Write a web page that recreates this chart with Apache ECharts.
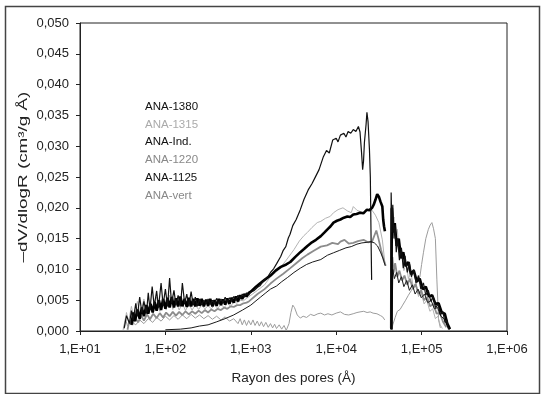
<!DOCTYPE html>
<html lang="fr">
	<head>
		<meta charset="utf-8">
		<title></title>
		<script type="text/javascript" src="https://cdn.jsdelivr.net/npm/echarts@6/dist/echarts.min.js"></script>
		<style type="text/css">
			html, body {
				margin: 0;
				padding: 0;
				background: #fff;
			}
		</style>
	</head>
	<body>
		<div id="chart" style="width:541px; height: 394px;"></div>
		<script type="text/javascript">
			// [rayon (Å), -dV/dlogR]; null = coupure de la courbe
			var ana1380 = [
				[33, 0.0005], [35, 0.0025], [38, 0.0012], [40, 0.0033], [42, 0.0018], [45, 0.0045], [47, 0.0024], [50, 0.0055],
				[53, 0.0030], [56, 0.0048], [60, 0.0028], [63, 0.0062], [66, 0.0035], [70, 0.0072], [74, 0.0040], [79, 0.0065],
				[83, 0.0038], [89, 0.0078], [94, 0.0042], [100, 0.0068], [106, 0.0040], [112, 0.0086], [118, 0.0045], [126, 0.0066],
				[133, 0.0042], [141, 0.0058], [150, 0.0040], [158, 0.0078], [168, 0.0045], [178, 0.0060], [188, 0.0040], [200, 0.0064],
				[212, 0.0042], [224, 0.0055], [237, 0.0040], [251, 0.0052], [266, 0.0042], [282, 0.0050], [300, 0.0044], [316, 0.0052],
				[335, 0.0043], [355, 0.0050], [376, 0.0044], [398, 0.0053], [422, 0.0045], [447, 0.0052], [473, 0.0046], [501, 0.0055],
				[531, 0.0047], [562, 0.0054], [596, 0.0049], [631, 0.0056], [668, 0.0050], [708, 0.0058], [750, 0.0052], [794, 0.0060],
				[841, 0.0055], [891, 0.0062], [944, 0.0058], [1000, 0.0063], [1100, 0.0066], [1200, 0.0071], [1290, 0.0074],
				[1400, 0.0081], [1500, 0.0085], [1600, 0.0089], [1700, 0.0095], [1850, 0.0101], [2000, 0.0109], [2240, 0.0121],
				[2400, 0.0131], [2570, 0.0137], [2750, 0.0151], [2880, 0.0157], [3100, 0.0171], [3400, 0.0181], [3800, 0.0197],
				[4200, 0.0214], [4700, 0.0229], [5200, 0.0239], [5750, 0.0251], [6300, 0.0262], [7080, 0.0283], [7700, 0.0293],
				[8300, 0.0289], [9100, 0.0310], [10000, 0.0313], [10500, 0.0307], [11200, 0.0318], [12300, 0.0321], [13000, 0.0315],
				[13800, 0.0324], [14800, 0.0321], [15850, 0.0327], [17000, 0.0324], [18200, 0.0332], [19000, 0.0323], [19800, 0.0290],
				[20400, 0.0262], [20900, 0.0276], [21400, 0.0306], [22400, 0.0336], [22900, 0.0355], [23600, 0.0340], [24500, 0.0295],
				[25100, 0.0250], [25700, 0.0132], [26000, 0.0083], [30000, null],
				[43500, 0.0003], [44000, 0.0225], [45000, 0.0160], [46000, 0.0205], [47500, 0.0150], [49000, 0.0172], [50500, 0.0128],
				[52500, 0.0150], [55000, 0.0115], [58000, 0.0135], [61000, 0.0102], [64000, 0.0122], [68000, 0.0095], [72000, 0.0112],
				[76000, 0.0088], [81000, 0.0100], [86000, 0.0078], [92000, 0.0090], [98000, 0.0068], [105000, 0.0078], [112000, 0.0058],
				[120000, 0.0066], [128000, 0.0048], [137000, 0.0056], [146000, 0.0038], [156000, 0.0044], [166000, 0.0026],
				[177000, 0.0032], [188000, 0.0014], [198000, 0.0018], [206000, 0.0003]
			];
			var ana1315 = [
				[33, 0.0003], [35, 0.0030], [37, 0.0015], [40, 0.0040], [43, 0.0020], [47, 0.0048], [51, 0.0025], [56, 0.0052],
				[61, 0.0028], [66, 0.0046], [72, 0.0030], [79, 0.0055], [86, 0.0032], [94, 0.0050], [102, 0.0034], [112, 0.0058],
				[122, 0.0035], [133, 0.0048], [145, 0.0034], [158, 0.0045], [172, 0.0033], [188, 0.0044], [205, 0.0034], [224, 0.0042],
				[245, 0.0035], [266, 0.0042], [290, 0.0036], [316, 0.0041], [345, 0.0036], [376, 0.0042], [410, 0.0037], [447, 0.0043],
				[490, 0.0038], [531, 0.0045], [580, 0.0040], [631, 0.0047], [690, 0.0045], [750, 0.0050], [820, 0.0049], [891, 0.0053],
				[1000, 0.0058], [1200, 0.0066], [1450, 0.0075], [1700, 0.0088], [2000, 0.0096], [2250, 0.0104], [2600, 0.0115],
				[3200, 0.0132], [3700, 0.0146], [4200, 0.0155], [4600, 0.0160], [5200, 0.0168], [6000, 0.0176], [6600, 0.0178],
				[7500, 0.0183], [8500, 0.0186], [9300, 0.0192], [10500, 0.0197], [12000, 0.0200], [13500, 0.0195], [15000, 0.0192],
				[15850, 0.0202], [17500, 0.0196], [19000, 0.0194], [21000, 0.0192], [22900, 0.0196], [24500, 0.0198], [26300, 0.0196],
				[28800, 0.0188], [31600, 0.0176], [34700, 0.0148], [37200, 0.0110], [40000, null],
				[43000, 0.0005], [43800, 0.0198], [45500, 0.0170], [47500, 0.0185], [50000, 0.0150], [52000, 0.0165], [55000, 0.0120],
				[58000, 0.0135], [62000, 0.0098], [66000, 0.0110], [70000, 0.0085], [75000, 0.0095], [80000, 0.0070], [86000, 0.0078],
				[92000, 0.0056], [99000, 0.0062], [107000, 0.0044], [115000, 0.0050], [125000, 0.0032], [135000, 0.0036],
				[145000, 0.0020], [155000, 0.0024], [165000, 0.0010], [175000, 0.0004]
			];
			var anaInd = [
				[40, 0.0010], [42, 0.0030], [44, 0.0016], [47, 0.0035], [50, 0.0020], [53, 0.0038], [56, 0.0024], [60, 0.0042],
				[63, 0.0028], [67, 0.0044], [71, 0.0030], [75, 0.0047], [79, 0.0033], [84, 0.0050], [89, 0.0034], [94, 0.0052],
				[100, 0.0036], [106, 0.0054], [112, 0.0038], [119, 0.0055], [126, 0.0038], [133, 0.0053], [141, 0.0040], [150, 0.0056],
				[158, 0.0040], [168, 0.0052], [178, 0.0039], [188, 0.0054], [200, 0.0040], [212, 0.0052], [224, 0.0040], [237, 0.0053],
				[251, 0.0041], [266, 0.0052], [282, 0.0040], [300, 0.0051], [316, 0.0041], [335, 0.0052], [355, 0.0040], [376, 0.0050],
				[398, 0.0041], [422, 0.0052], [447, 0.0042], [473, 0.0051], [501, 0.0043], [531, 0.0053], [562, 0.0044], [596, 0.0054],
				[631, 0.0046], [668, 0.0056], [708, 0.0048], [750, 0.0058], [794, 0.0052], [841, 0.0060], [891, 0.0056], [944, 0.0062],
				[1000, 0.0064], [1150, 0.0072], [1300, 0.0078],
				[1450, 0.0083], [1700, 0.0090], [1950, 0.0098], [2250, 0.0104], [2600, 0.0108], [2900, 0.0112], [3300, 0.0120],
				[3800, 0.0128], [4200, 0.0133], [4600, 0.0138], [5200, 0.0144], [5800, 0.0148], [6600, 0.0154], [7300, 0.0160],
				[7900, 0.0165], [8600, 0.0170], [9300, 0.0176], [10200, 0.0179], [11200, 0.0181], [12300, 0.0184], [13500, 0.0186],
				[14600, 0.0185], [15850, 0.0189], [17300, 0.0190], [19000, 0.0192], [20800, 0.0191], [22900, 0.0197], [24500, 0.0196],
				[26300, 0.0200], [27500, 0.0205], [28800, 0.0213], [30200, 0.0222], [31600, 0.0218], [33000, 0.0210], [34700, 0.0202],
				[35500, 0.0181], [36300, 0.0170], [37200, 0.0162], [40000, null],
				[44200, 0.0003], [44800, 0.0200], [46500, 0.0160], [48500, 0.0175], [51000, 0.0138], [54000, 0.0150], [57500, 0.0118],
				[61000, 0.0128], [65000, 0.0105], [70000, 0.0112], [75000, 0.0092], [81000, 0.0098], [88000, 0.0080], [95000, 0.0085],
				[103000, 0.0068], [112000, 0.0072], [122000, 0.0056], [133000, 0.0058], [145000, 0.0044], [158000, 0.0045],
				[172000, 0.0030], [187000, 0.0028], [200000, 0.0012], [215000, 0.0003]
			];
			var ana1220 = [
				[36, 0.0002], [38, 0.0018], [41, 0.0010], [44, 0.0022], [48, 0.0014], [52, 0.0025], [56, 0.0017], [61, 0.0027],
				[66, 0.0019], [72, 0.0028], [79, 0.0021], [86, 0.0029], [94, 0.0022], [102, 0.0030], [112, 0.0024], [122, 0.0031],
				[133, 0.0025], [145, 0.0031], [158, 0.0026], [172, 0.0032], [188, 0.0027], [205, 0.0032], [224, 0.0028], [245, 0.0033],
				[266, 0.0029], [290, 0.0034], [316, 0.0030], [345, 0.0035], [376, 0.0032], [410, 0.0036], [447, 0.0034], [490, 0.0038],
				[531, 0.0036], [580, 0.0040], [631, 0.0039], [690, 0.0042], [750, 0.0042], [820, 0.0045], [891, 0.0046], [950, 0.0048],
				[1000, 0.0050], [1200, 0.0060], [1450, 0.0068], [1700, 0.0077], [2000, 0.0085], [2400, 0.0093], [2900, 0.0102],
				[3400, 0.0110], [4000, 0.0118], [4600, 0.0124], [5400, 0.0130], [6600, 0.0137], [7800, 0.0139], [9000, 0.0143],
				[10500, 0.0141], [11200, 0.0145], [12500, 0.0148], [14000, 0.0142], [15850, 0.0143], [18000, 0.0146], [20900, 0.0148],
				[23500, 0.0144], [26300, 0.0145], [28000, 0.0155], [29500, 0.0163], [31000, 0.0152], [33500, 0.0132], [36000, 0.0115],
				[38000, 0.0106], [41000, null],
				[44500, 0.0003], [45500, 0.0120], [47000, 0.0095], [49000, 0.0110], [52000, 0.0088], [55000, 0.0098], [59000, 0.0082],
				[63000, 0.0090], [68000, 0.0075], [73000, 0.0085], [79000, 0.0068], [85000, 0.0076], [92000, 0.0060], [99000, 0.0066],
				[107000, 0.0050], [116000, 0.0055], [126000, 0.0040], [137000, 0.0044], [150000, 0.0028], [163000, 0.0030],
				[178000, 0.0015], [195000, 0.0006]
			];
			var ana1125 = [
				[100, 0.0002], [150, 0.0003], [200, 0.0005], [250, 0.0008], [316, 0.0010], [400, 0.0015], [500, 0.0020], [630, 0.0026],
				[800, 0.0034], [1000, 0.0042], [1150, 0.0049], [1300, 0.0055], [1500, 0.0062], [1700, 0.0068], [2000, 0.0073],
				[2300, 0.0080], [2700, 0.0087], [3200, 0.0095], [3800, 0.0102], [4500, 0.0108], [5300, 0.0112], [6600, 0.0116],
				[7900, 0.0123], [9300, 0.0127], [11000, 0.0131], [13000, 0.0135], [15000, 0.0137], [17500, 0.0141], [20000, 0.0143],
				[23000, 0.0144], [25500, 0.0145], [28000, 0.0143], [30500, 0.0138], [33000, 0.0128], [35500, 0.0117], [37500, 0.0106],
				[41000, null],
				[45000, 0.0002], [46000, 0.0100], [48000, 0.0085], [51000, 0.0095], [54000, 0.0078], [58000, 0.0088], [62000, 0.0072],
				[67000, 0.0082], [72000, 0.0066], [78000, 0.0075], [84000, 0.0060], [91000, 0.0068], [99000, 0.0054], [108000, 0.0060],
				[118000, 0.0046], [129000, 0.0050], [141000, 0.0036], [154000, 0.0038], [168000, 0.0024], [183000, 0.0020],
				[200000, 0.0008], [210000, 0.0002]
			];
			var anaVert = [
				[32, 0.0002], [34, 0.0020], [36, 0.0008], [40, 0.0015], [45, 0.0010], [50, 0.0018], [56, 0.0012], [63, 0.0020],
				[71, 0.0014], [79, 0.0022], [89, 0.0016], [100, 0.0024], [112, 0.0018], [126, 0.0025], [141, 0.0019], [158, 0.0026],
				[178, 0.0020], [200, 0.0027], [224, 0.0021], [251, 0.0026], [282, 0.0020], [316, 0.0025], [355, 0.0019], [398, 0.0024],
				[447, 0.0018], [501, 0.0023], [562, 0.0016], [631, 0.0020], [708, 0.0012], [750, 0.0020], [794, 0.0010], [841, 0.0018],
				[891, 0.0009], [944, 0.0017], [1000, 0.0010], [1060, 0.0018], [1120, 0.0009], [1190, 0.0016], [1260, 0.0008],
				[1330, 0.0015], [1410, 0.0007], [1500, 0.0014], [1600, 0.0006], [1700, 0.0012], [1800, 0.0005], [1900, 0.0011],
				[2000, 0.0004], [2150, 0.0010], [2300, 0.0003], [2450, 0.0009], [2600, 0.0001], [2800, 0.0012], [2950, 0.0030],
				[3100, 0.0042], [3250, 0.0038], [3500, 0.0026], [3800, 0.0021], [4100, 0.0024], [4500, 0.0022], [5000, 0.0027],
				[5500, 0.0025], [6100, 0.0028], [6600, 0.0029], [7300, 0.0026], [8000, 0.0028], [8900, 0.0026], [10000, 0.0029],
				[11200, 0.0031], [12500, 0.0027], [14000, 0.0026], [15800, 0.0028], [17500, 0.0030], [19000, 0.0031], [21000, 0.0032],
				[23000, 0.0030], [25000, 0.0031], [27000, 0.0029], [30000, 0.0028], [33000, 0.0025], [35000, 0.0023], [37000, 0.0018],
				[40000, null],
				[44000, 0.0000], [46000, 0.0010], [49000, 0.0022], [52000, 0.0032], [56000, 0.0035], [60000, 0.0042], [65000, 0.0050],
				[70000, 0.0058], [76000, 0.0066], [83000, 0.0075], [89000, 0.0082], [95500, 0.0088], [100000, 0.0108],
				[105000, 0.0127], [112000, 0.0150], [120000, 0.0165], [126000, 0.0172], [132000, 0.0176], [138000, 0.0166],
				[145000, 0.0150], [151000, 0.0083], [158000, 0.0018], [166000, 0.0005]
			];

			var names = ['ANA-1380', 'ANA-1315', 'ANA-Ind.', 'ANA-1220', 'ANA-1125', 'ANA-vert'];
			var datas = [ana1380, ana1315, anaInd, ana1220, ana1125, anaVert];
			var colors = ['#111', '#b3b3b3', '#000', '#8c8c8c', '#1a1a1a', '#9c9c9c'];
			var widths = [1.2, 1, 2.6, 1.8, 1, 1];
			var legendColors = ['#111', '#aaa', '#111', '#888', '#111', '#888'];
			// ordre de dessin : les courbes noires par-dessus
			var drawOrder = [5, 1, 3, 4, 2, 0];

			var font = 'Liberation Sans, Arial, sans-serif';
			var series = [];
			for (var k = 0; k < drawOrder.length; k++) {
				var i = drawOrder[k];
				series.push({
					name: names[i],
					type: 'line',
					symbol: 'none',
					connectNulls: false,
					itemStyle: { color: colors[i] },
					lineStyle: { color: colors[i], width: widths[i] },
					data: datas[i]
				});
			}

			var chart = echarts.init(document.getElementById('chart'), null, { renderer: 'canvas' });
			chart.setOption({
				animation: false,
				backgroundColor: '#fff',
				textStyle: { fontFamily: font },
				grid: {
					left: 80,
					right: 34,
					top: 23,
					bottom: 63,
					show: true,
					borderColor: '#222',
					borderWidth: 1
				},
				legend: {
					orient: 'vertical',
					left: 135,
					top: 95,
					icon: 'none',
					itemWidth: 0,
					itemHeight: 13,
					itemGap: 5.4,
					selectedMode: false,
					textStyle: { fontSize: 11.5, fontFamily: font },
					data: names.map(function(n, i) {
						return { name: n, textStyle: { color: legendColors[i] } };
					})
				},
				xAxis: {
					type: 'log',
					logBase: 10,
					min: 10,
					max: 1000000,
					name: 'Rayon des pores (Å)',
					nameLocation: 'middle',
					nameGap: 40,
					nameTextStyle: { fontSize: 13.5, color: '#222', fontFamily: font },
					axisLine: { lineStyle: { color: '#222', width: 1 } },
					axisTick: { show: true, length: 4, lineStyle: { color: '#222' } },
					minorTick: { show: false },
					splitLine: { show: false },
					axisLabel: {
						fontSize: 13,
						color: '#222',
						margin: 12,
						formatter: function(v) {
							var e = Math.round(Math.log10(v));
							return '1,E+' + (e < 10 ? '0' : '') + e;
						}
					}
				},
				yAxis: {
					type: 'value',
					min: 0,
					max: 0.05,
					interval: 0.005,
					axisLine: { show: true, lineStyle: { color: '#222', width: 1 } },
					axisTick: { show: true, length: 4, lineStyle: { color: '#222' } },
					splitLine: { show: false },
					axisLabel: {
						fontSize: 13,
						color: '#222',
						margin: 11,
						formatter: function(v) {
							return v.toFixed(3).replace('.', ',');
						}
					}
				},
				graphic: [{
					type: 'rect',
					left: 3,
					top: 4,
					shape: { width: 534, height: 387 },
					style: { fill: 'none', stroke: '#444', lineWidth: 1.5 },
					silent: true
				}, {
					// titre de l'axe Y, étiré dans le sens de la lecture comme sur le scan
					type: 'text',
					x: 23,
					y: 177,
					rotation: Math.PI / 2,
					scaleX: 1.45,
					silent: true,
					style: {
						text: '–dV/dlogR (cm³/g Å)',
						font: '13px ' + font,
						fill: '#222',
						align: 'center',
						verticalAlign: 'middle',
						textAlign: 'center',
						textVerticalAlign: 'middle'
					}
				}],
				series: series
			});
		</script>
	</body>
</html>
